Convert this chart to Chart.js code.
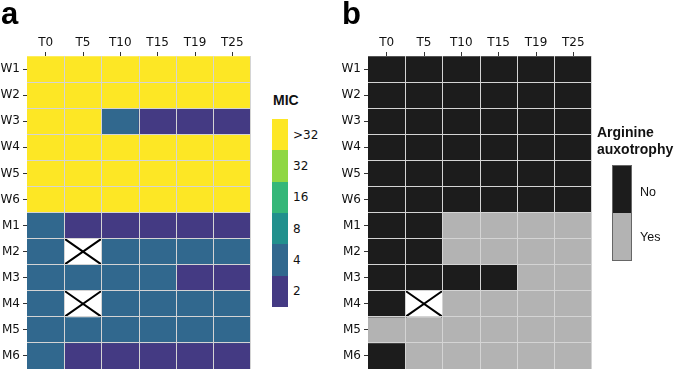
<!DOCTYPE html>
<html lang="en">
<head>
  <meta charset="UTF-8">
  <title>MIC and arginine auxotrophy</title>
  <script src="https://cdn.jsdelivr.net/npm/chart.js"></script>
  <style>
    body { margin: 0; background: #fff; }
    #wrap { position: relative; width: 674px; height: 370px; overflow: hidden; font-family: "DejaVu Sans", sans-serif; color: #111; }
    canvas { position: absolute; top: 0; }
    .panel { position: absolute; top: -4px; font: bold 31px "Liberation Sans", Arial, sans-serif; color: #000; }
    .ltitle { position: absolute; font: bold 14px/17px "Liberation Sans", Arial, sans-serif; color: #111; }
    .seg { position: absolute; }
    .lab { position: absolute; font-size: 12px; line-height: 14px; }
  </style>
</head>
<body>
  <div id="wrap">
    <canvas id="micChart" width="262" height="370" style="left:0"></canvas>
    <canvas id="auxChart" width="262" height="370" style="left:341px"></canvas>
    <div class="panel" style="left:1px">a</div>
    <div class="panel" style="left:342px">b</div>
    <div class="ltitle" style="left:273px; top:92px">MIC</div>
    <div id="micLegend"></div>
    <div class="ltitle" style="left:597px; top:124px">Arginine<br>auxotrophy</div>
    <div id="auxLegend"></div>
  </div>

  <script>
    const timepoints = ['T0', 'T5', 'T10', 'T15', 'T19', 'T25'];
    const strains = ['W1', 'W2', 'W3', 'W4', 'W5', 'W6', 'M1', 'M2', 'M3', 'M4', 'M5', 'M6'];

    // MIC legend levels, top to bottom
    const micLevels = ['>32', '32', '16', '8', '4', '2'];
    const micColors = ['#fde725', '#8fd744', '#35b779', '#21908d', '#31688e', '#443a83'];

    // one row per strain, one value per timepoint (null = no sample)
    const micValues = [
      ['>32', '>32', '>32', '>32', '>32', '>32'],
      ['>32', '>32', '>32', '>32', '>32', '>32'],
      ['>32', '>32', '4', '2', '2', '2'],
      ['>32', '>32', '>32', '>32', '>32', '>32'],
      ['>32', '>32', '>32', '>32', '>32', '>32'],
      ['>32', '>32', '>32', '>32', '>32', '>32'],
      ['4', '2', '2', '2', '2', '2'],
      ['4', null, '4', '4', '4', '4'],
      ['4', '4', '4', '4', '2', '2'],
      ['4', null, '4', '4', '4', '4'],
      ['4', '4', '4', '4', '4', '4'],
      ['4', '2', '2', '2', '2', '2']
    ];

    const auxLevels = ['No', 'Yes'];
    const auxColors = ['#1c1c1c', '#b3b3b3'];

    const auxValues = [
      ['No', 'No', 'No', 'No', 'No', 'No'],
      ['No', 'No', 'No', 'No', 'No', 'No'],
      ['No', 'No', 'No', 'No', 'No', 'No'],
      ['No', 'No', 'No', 'No', 'No', 'No'],
      ['No', 'No', 'No', 'No', 'No', 'No'],
      ['No', 'No', 'No', 'No', 'No', 'No'],
      ['No', 'No', 'Yes', 'Yes', 'Yes', 'Yes'],
      ['No', 'No', 'Yes', 'Yes', 'Yes', 'Yes'],
      ['No', 'No', 'No', 'No', 'Yes', 'Yes'],
      ['No', null, 'Yes', 'Yes', 'Yes', 'Yes'],
      ['Yes', 'Yes', 'Yes', 'Yes', 'Yes', 'Yes'],
      ['No', 'Yes', 'Yes', 'Yes', 'Yes', 'Yes']
    ];

    const tickFont = { family: 'DejaVu Sans', size: 12 };
    const lineColor = '#d4d4d4';

    // draws the X over missing cells, using the bar element geometry
    const missingCross = {
      id: 'missingCross',
      afterDatasetsDraw(chart) {
        const c = chart.ctx;
        chart.data.datasets.forEach((ds, i) => {
          const meta = chart.getDatasetMeta(i);
          ds.raw.forEach((v, j) => {
            if (v !== null) return;
            const bar = meta.data[j];
            const left = bar.x - bar.width / 2, right = bar.x + bar.width / 2;
            const top = Math.min(bar.y, bar.base), bottom = Math.max(bar.y, bar.base);
            c.save();
            c.strokeStyle = '#000';
            c.lineWidth = 2;
            c.beginPath();
            c.moveTo(left, top); c.lineTo(right, bottom);
            c.moveTo(right, top); c.lineTo(left, bottom);
            c.stroke();
            c.restore();
          });
        });
      }
    };

    const noPad = s => { s.paddingLeft = 0; s.paddingRight = 0; s.paddingTop = 0; s.paddingBottom = 0; };

    const makeHeatmap = (id, values, levels, colors) => {
      const datasets = strains.map((s, r) => ({
        label: s,
        raw: values[r],
        data: timepoints.map(() => [r, r + 1]),
        backgroundColor: values[r].map(v => v === null ? '#ffffff' : colors[levels.indexOf(v)]),
        borderWidth: 0,
        barPercentage: 1,
        categoryPercentage: 1,
        grouped: false
      }));

      return new Chart(document.getElementById(id), {
        type: 'bar',
        data: { labels: timepoints, datasets },
        plugins: [missingCross],
        options: {
          responsive: false,
          animation: false,
          layout: { padding: { right: 11, bottom: 1 } },
          plugins: { legend: { display: false }, tooltip: { enabled: false } },
          scales: {
            // cell borders (columns)
            x: {
              type: 'category', position: 'top', offset: true,
              grid: {
                offset: true, drawTicks: false, z: 1,
                color: ctx => (ctx.index === 0 || ctx.index === timepoints.length) ? 'rgba(0,0,0,0)' : lineColor
              },
              border: { display: false },
              ticks: { display: false },
              afterFit: s => { noPad(s); s.height = 0; }
            },
            // column labels with tick marks
            xt: {
              type: 'category', position: 'top', offset: true,
              grid: { drawOnChartArea: false, offset: false, tickLength: 4, tickColor: '#333', tickWidth: 1 },
              border: { display: false },
              ticks: { font: tickFont, color: '#111', padding: 2, maxRotation: 0 },
              afterFit: s => { noPad(s); s.height = 56; }
            },
            // cell borders (rows)
            y: {
              type: 'linear', min: 0, max: strains.length, reverse: true,
              afterBuildTicks: s => { s.ticks = strains.map((_, i) => ({ value: i })).concat([{ value: strains.length }]); },
              grid: {
                drawTicks: false, z: 1,
                color: ctx => (ctx.tick.value === 0 || ctx.tick.value === strains.length) ? 'rgba(0,0,0,0)' : lineColor
              },
              border: { display: false },
              ticks: { display: false },
              afterFit: s => { noPad(s); s.width = 0; }
            },
            // row labels with tick marks
            yl: {
              type: 'linear', min: 0, max: strains.length, reverse: true, position: 'left',
              afterBuildTicks: s => { s.ticks = strains.map((_, i) => ({ value: i + 0.5 })); },
              grid: { drawOnChartArea: false, tickLength: 4, tickColor: '#333', tickWidth: 1 },
              border: { display: false },
              ticks: { font: tickFont, color: '#111', padding: 3, callback: v => strains[Math.floor(v)] },
              afterFit: s => { noPad(s); s.width = 27; }
            }
          }
        }
      });
    };

    makeHeatmap('micChart', micValues, micLevels, micColors);
    makeHeatmap('auxChart', auxValues, auxLevels, auxColors);

    // legends
    const wrap = document.getElementById('micLegend');
    const segH = 188 / micLevels.length;
    micLevels.forEach((lv, i) => {
      const seg = document.createElement('div');
      seg.className = 'seg';
      seg.style.cssText = `left:272px;top:${119 + i * segH}px;width:16px;height:${segH + 0.5}px;background:${micColors[i]}`;
      wrap.appendChild(seg);
      const lab = document.createElement('div');
      lab.className = 'lab';
      lab.style.cssText = `left:293px;top:${119 + i * segH + segH / 2 - 7}px`;
      lab.textContent = lv;
      wrap.appendChild(lab);
    });

    const auxWrap = document.getElementById('auxLegend');
    const box = document.createElement('div');
    box.className = 'seg';
    box.style.cssText = 'left:612px;top:165px;width:18px;height:94px;border:1px solid #666';
    auxWrap.appendChild(box);
    auxLevels.forEach((lv, i) => {
      const seg = document.createElement('div');
      seg.className = 'seg';
      seg.style.cssText = `left:613px;top:${166 + i * 47}px;width:18px;height:47px;background:${auxColors[i]}`;
      auxWrap.appendChild(seg);
      const lab = document.createElement('div');
      lab.className = 'lab';
      lab.style.cssText = `left:640px;top:${185 + i * 45}px;font:12.5px "Liberation Sans", Arial, sans-serif`;
      lab.textContent = lv;
      auxWrap.appendChild(lab);
    });
  </script>
</body>
</html>
